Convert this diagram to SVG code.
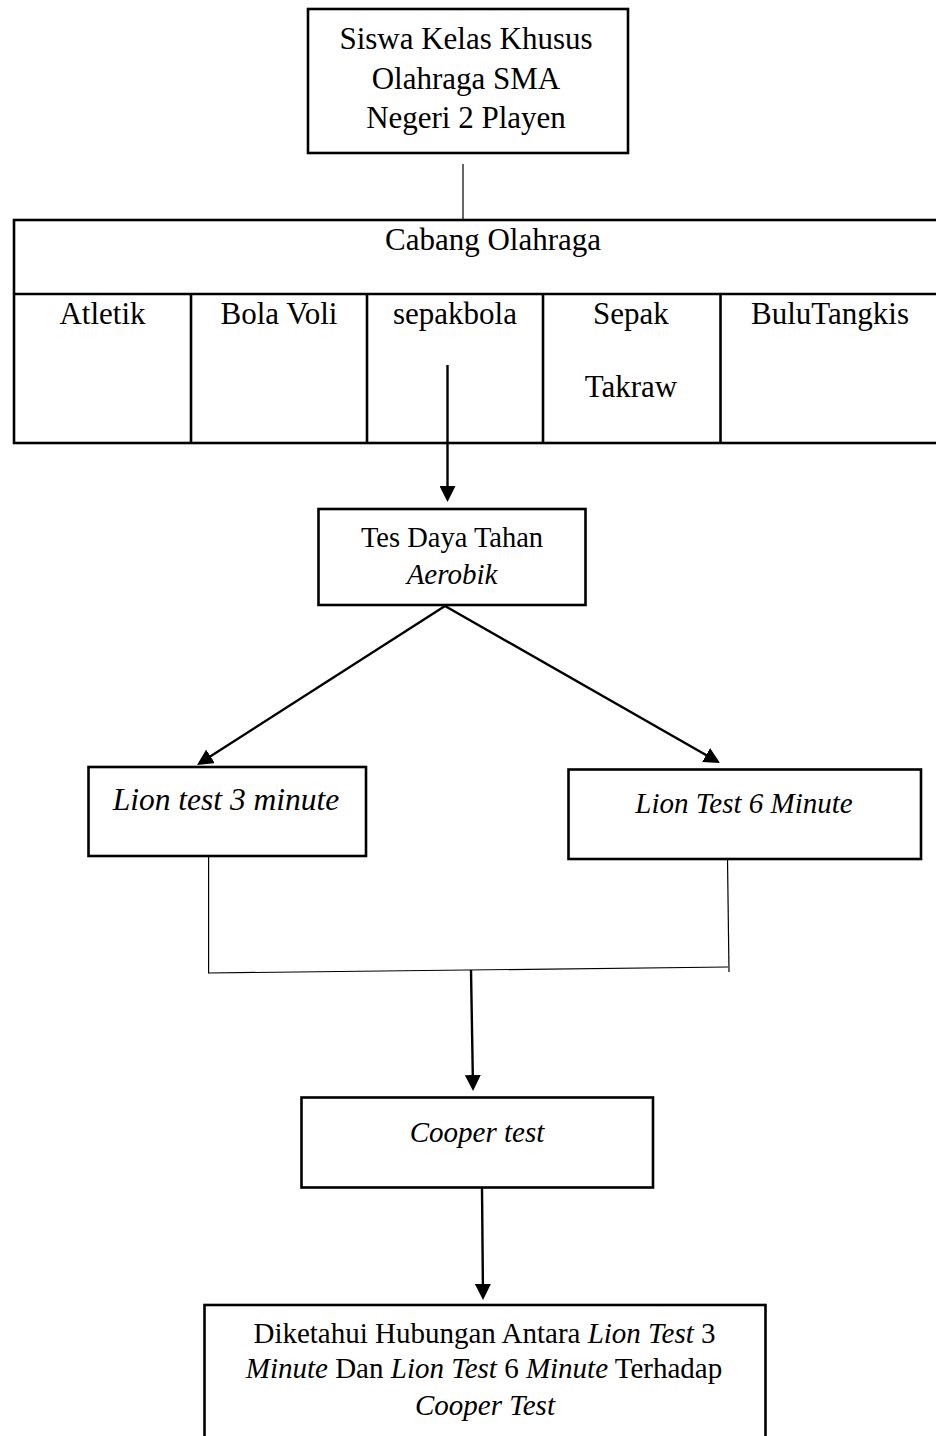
<svg xmlns="http://www.w3.org/2000/svg" width="936" height="1436" viewBox="0 0 936 1436">
<style>
  text { font-family: "Liberation Serif", "Times New Roman", serif; fill: #000; text-anchor: middle; }
  .box { fill: #fff; stroke: #000; stroke-width: 2.6; }
  .grid { fill: none; stroke: #000; stroke-width: 2.6; }
  .thin { fill: none; stroke: #000; stroke-width: 1.2; }
  .arrow { fill: none; stroke: #000; stroke-width: 2.4; marker-end: url(#ah); }
  .it { font-style: italic; }
</style>
<defs>
  <marker id="ah" viewBox="0 0 16 16" refX="12" refY="8" markerWidth="16" markerHeight="16" markerUnits="userSpaceOnUse" orient="auto">
    <path d="M0,0 L16,8 L0,16 z" fill="#000"/>
  </marker>
</defs>
<rect width="936" height="1436" fill="#fff"/>

<g id="connectors">
  <line class="thin" x1="463" y1="164" x2="463" y2="220"/>
  <line class="arrow" x1="447.5" y1="365" x2="447.5" y2="498"/>
  <line class="arrow" x1="445" y1="606" x2="200.4" y2="762.8"/>
  <line class="arrow" x1="445" y1="606" x2="716.5" y2="761"/>
  <line class="thin" x1="208.6" y1="856" x2="208.6" y2="973.5"/>
  <line class="thin" x1="727.5" y1="859" x2="729" y2="972"/>
  <line class="thin" x1="209" y1="973" x2="728" y2="967"/>
  <line class="arrow" x1="471" y1="970" x2="473" y2="1087"/>
  <line class="arrow" x1="482" y1="1188" x2="483" y2="1296"/>
</g>

<g id="siswa">
  <rect class="box" x="308" y="9" width="320" height="144"/>
  <text x="466" y="49" font-size="31">Siswa Kelas Khusus</text>
  <text x="466" y="89" font-size="31">Olahraga SMA</text>
  <text x="466" y="128" font-size="31">Negeri 2 Playen</text>
</g>

<g id="cabang">
  <rect class="grid" x="14" y="220" width="930" height="223"/>
  <line class="grid" x1="14" y1="294" x2="944" y2="294"/>
  <line class="grid" x1="191" y1="294" x2="191" y2="443"/>
  <line class="grid" x1="367" y1="294" x2="367" y2="443"/>
  <line class="grid" x1="543" y1="294" x2="543" y2="443"/>
  <line class="grid" x1="720.5" y1="294" x2="720.5" y2="443"/>
  <text x="493" y="250" font-size="31">Cabang Olahraga</text>
  <g id="atletik"><text x="102.5" y="324" font-size="31">Atletik</text></g>
  <g id="bolavoli"><text x="279" y="324" font-size="31">Bola Voli</text></g>
  <g id="sepakbola"><text x="455" y="324" font-size="31">sepakbola</text></g>
  <g id="sepaktakraw"><text x="631" y="324" font-size="31">Sepak</text><text x="631" y="397" font-size="31">Takraw</text></g>
  <g id="bulutangkis"><text x="830" y="324" font-size="31">BuluTangkis</text></g>
</g>

<g id="tes">
  <rect class="box" x="318.5" y="509" width="267" height="96"/>
  <text x="452" y="547" font-size="28.5">Tes Daya Tahan</text>
  <text x="452" y="584" font-size="29" class="it">Aerobik</text>
</g>

<g id="lion3">
  <rect class="box" x="88.5" y="767" width="277.5" height="89"/>
  <text x="226" y="810" font-size="31.5" class="it">Lion test 3 minute</text>
</g>

<g id="lion6">
  <rect class="box" x="568.5" y="769.5" width="352.5" height="89.5"/>
  <text x="744" y="813" font-size="29" class="it">Lion Test 6 Minute</text>
</g>

<g id="cooper">
  <rect class="box" x="301.5" y="1097.5" width="351.5" height="90"/>
  <text x="477" y="1142" font-size="29" class="it">Cooper test</text>
</g>

<g id="hasil">
  <rect class="box" x="204.5" y="1305" width="561" height="140"/>
  <text x="484.5" y="1343" font-size="29">Diketahui Hubungan Antara <tspan class="it">Lion Test</tspan> 3</text>
  <text x="484" y="1378" font-size="29"><tspan class="it">Minute</tspan> Dan <tspan class="it">Lion Test</tspan> 6 <tspan class="it">Minute</tspan> Terhadap</text>
  <text x="485" y="1415" font-size="29" class="it">Cooper Test</text>
</g>
</svg>
